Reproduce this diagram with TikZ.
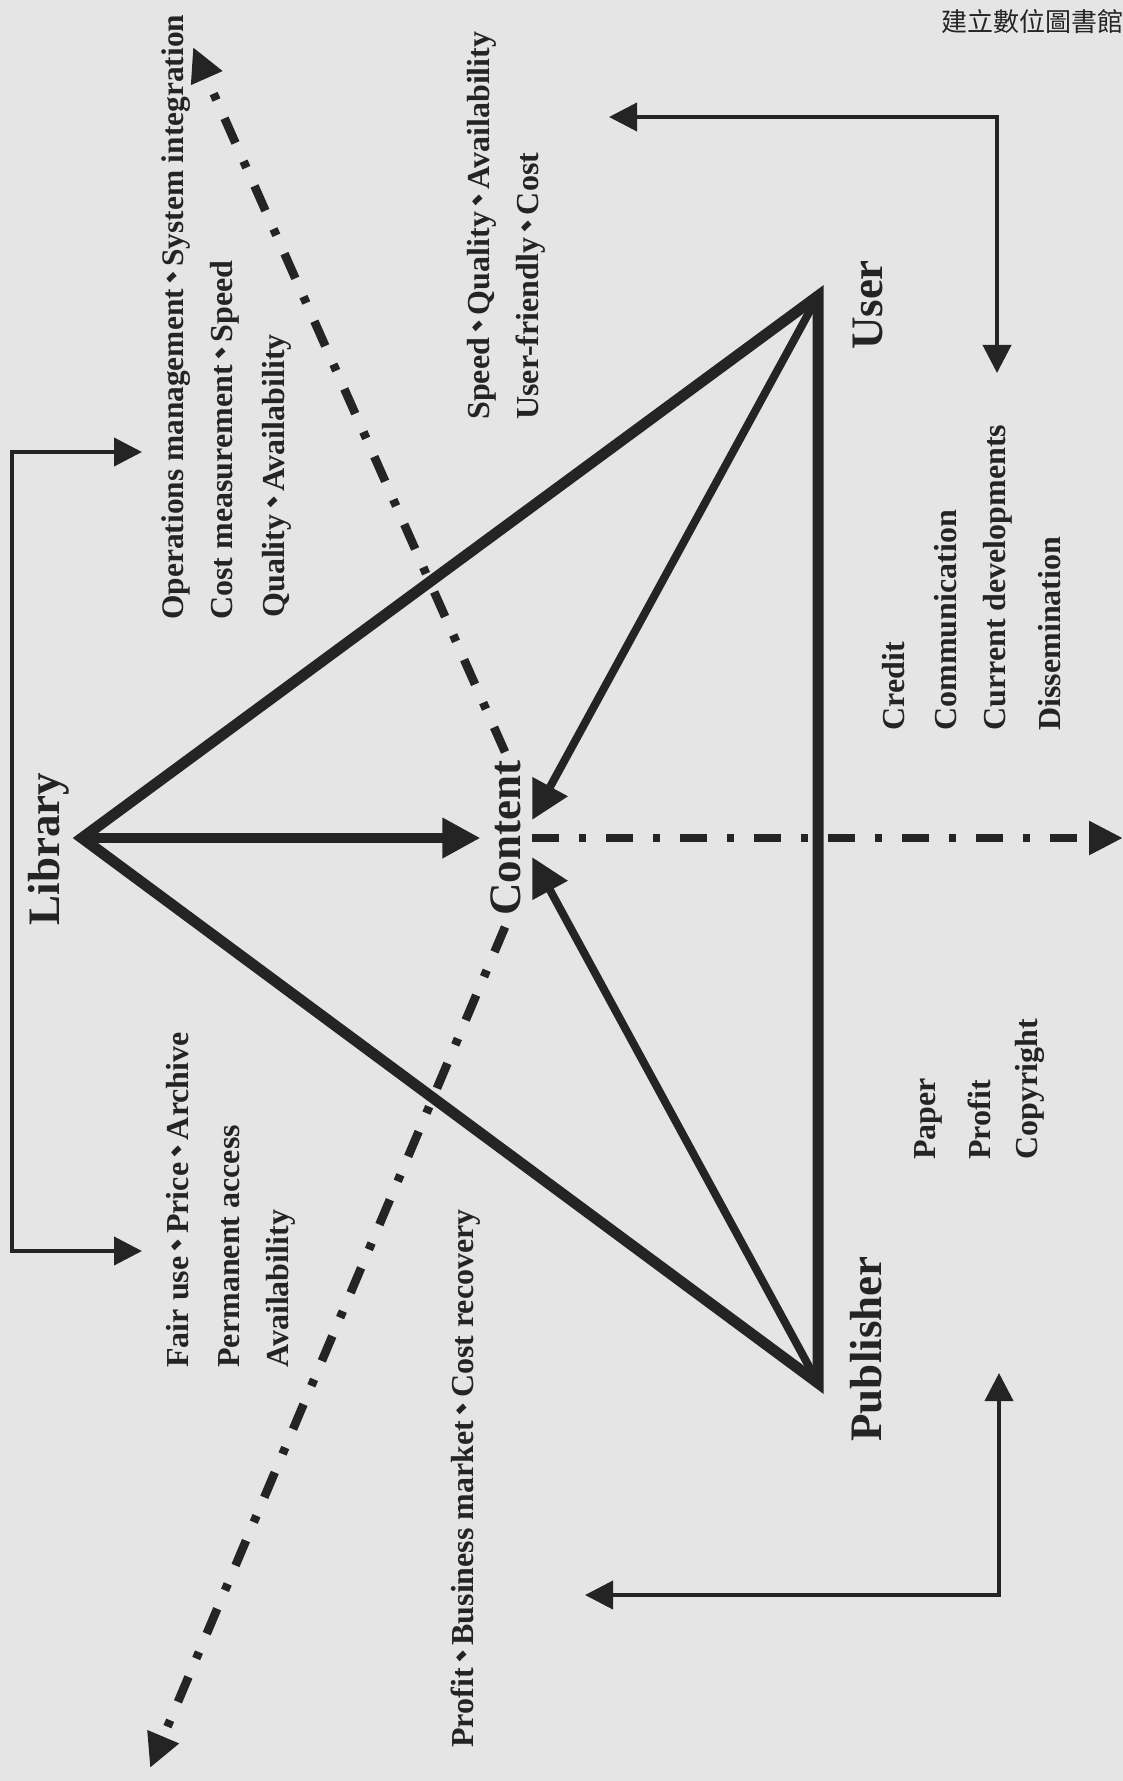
\documentclass[tikz,border=0pt]{standalone}
\usepackage{fontspec}
\setmainfont{Liberation Serif}
\newfontfamily\cjkfont{Noto Sans CJK TC}
\usetikzlibrary{arrows.meta}
\definecolor{ink}{gray}{0.14}
\definecolor{paper}{gray}{0.9}
\newcommand{\dun}{\hspace{-0.14em}{\cjkfont 、}\hspace{-0.15em}}
\tikzset{side/.style={draw=ink,line width=5.5pt,line join=miter},
         feed/.style={draw=ink,line width=4pt,-{Triangle[length=19pt,width=19pt]}},
         flow/.style={draw=ink,line width=4.3pt,dash pattern=on 13.5pt off 10pt on 3.5pt off 10pt,-{Triangle[length=17pt,width=16pt]}},
         link/.style={draw=ink,line width=2pt,-{Triangle[length=14pt,width=14pt]}},
         pair/.style={draw=ink,line width=2pt,{Triangle[length=14pt,width=14pt]}-{Triangle[length=14pt,width=14pt]}},
         actor/.style={rotate=90,inner sep=0pt,text=ink,font=\bfseries\fontsize{22.5}{24}\selectfont},
         item/.style={rotate=90,anchor=west,inner sep=0pt,text=ink,font=\bfseries\fontsize{16}{18}\selectfont},
        }

\begin{document}
\begin{tikzpicture}[x=0.5pt,y=-0.5pt]
        \fill[paper](0,0)rectangle(1123,1781);
        \useasboundingbox(0,0)rectangle(1123,1781);

        \node[anchor=west,inner sep=0pt,text=ink,font=\cjkfont\fontsize{13}{13}\selectfont](head)at(941,22){建立數位圖書館};

        \coordinate(lib)at(82,838);
        \coordinate(usr)at(818,296);
        \coordinate(pub)at(818,1383);

        \node[actor](library)at(49,849){Library};
        \node[actor](user)at(868,305){User};
        \node[actor](publisher)at(866,1349){Publisher};
        \node[actor](content)at(506,838){Content};

        % labels round the triangle
        \node[item,font=\bfseries\fontsize{15.7}{18}\selectfont](ops)at(176,620){Operations management\dun System integration};
        \node[item](cost)at(225,620){Cost measurement\dun Speed};
        \node[item](qual)at(277,618){Quality\dun Availability};
        \node[item](speed)at(482,420){Speed\dun Quality\dun Availability};
        \node[item](friendly)at(531,420){User-friendly\dun Cost};
        \node[item](credit)at(894,731){Credit};
        \node[item](comm)at(946,731){Communication};
        \node[item](cur)at(998,731){Current developments};
        \node[item](diss)at(1050,731){Dissemination};
        \node[item](paperi)at(928,1160){Paper};
        \node[item](profit)at(979,1160){Profit};
        \node[item](copy)at(1030,1160){Copyright};
        \node[item](fair)at(178,1368){Fair use\dun Price\dun Archive};
        \node[item](perm)at(229,1368){Permanent access};
        \node[item](avail)at(281,1368){Availability};
        \node[item](market)at(466,1748){Profit\dun Business market\dun Cost recovery};

        \draw[side](lib)--(usr)--(pub)--cycle;

        \draw[feed,line width=5pt](lib)--([xshift=-5pt]content.north);
        \draw[feed](usr)--([shift={(26,-18)}]content.center);
        \draw[feed](pub)--([shift={(26,19)}]content.center);

        \coordinate(up)at(193,47);
        \coordinate(down)at(150,1768);
        \coordinate(out)at(1123,838);
        \draw[flow]([shift={(-1,-86)}]content.center)--(up);
        \draw[flow]([shift={(-1,89)}]content.center)--(down);
        \draw[flow]([shift={(26,0)}]content.center)--(out);

        \coordinate(bt)at(142,452);
        \coordinate(bb)at(142,1251);
        \draw[pair](bt)--(12,452)--(12,1251)--(bb);

        \coordinate(uleft)at(609,117);
        \coordinate(udown)at(997,373);
        \draw[pair](uleft)--(997,117)--(udown);

        \coordinate(pup)at(999,1373);
        \coordinate(pleft)at(585,1595);
        \draw[pair](pup)--(999,1595)--(pleft);
    \end{tikzpicture}
\end{document}
